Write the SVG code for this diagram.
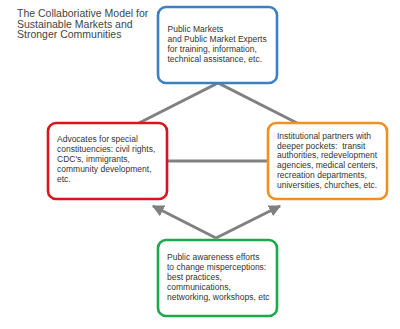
<svg xmlns="http://www.w3.org/2000/svg" width="400" height="329" viewBox="0 0 400 329">
<defs>
<style>
.box{fill:#fff;stroke-width:2.6}
.t{font-family:"Liberation Sans",Arial,sans-serif;font-size:8.5px;fill:#333;white-space:pre}
.title{font-family:"Liberation Sans",Arial,sans-serif;font-size:10.5px;fill:#444}
.ln{stroke:#808080;stroke-width:3;fill:none}
</style>
<marker id="ah" viewBox="0 0 10 10" refX="9" refY="5" markerWidth="12" markerHeight="12" markerUnits="userSpaceOnUse" orient="auto">
<path d="M0,0 L10,5 L0,10 Z" fill="#808080"/>
</marker>
</defs>
<rect width="400" height="329" fill="#fff"/>
<text class="title"><tspan x="17" y="17">The Collaboriative Model for</tspan><tspan x="17" y="27.5">Sustainable Markets and</tspan><tspan x="17" y="38">Stronger Communities</tspan></text>
<g id="connectors">
<path class="ln" d="M139,123 L218,83 L297,123"/>
<path class="ln" d="M167,161 L268,161"/>
<path class="ln" d="M216,238 L153,206" marker-end="url(#ah)"/>
<path class="ln" d="M216,238 L280,206" marker-end="url(#ah)"/>
</g>
<g id="public-markets">
<rect class="box" x="158" y="7" width="119" height="76" rx="8" stroke="#3c80c4"/>
<text class="t"><tspan x="167.5" y="32">Public Markets</tspan><tspan x="167.5" y="42">and Public Market Experts</tspan><tspan x="167.5" y="52">for training, information,</tspan><tspan x="167.5" y="62">technical assistance, etc.</tspan></text>
</g>
<g id="advocates">
<rect class="box" x="48" y="123" width="119" height="76" rx="8" stroke="#d8141c"/>
<text class="t"><tspan x="57" y="142">Advocates for special</tspan><tspan x="57" y="152">constituencies: civil rights,</tspan><tspan x="57" y="162">CDC's, immigrants,</tspan><tspan x="57" y="172">community development,</tspan><tspan x="57" y="182">etc.</tspan></text>
</g>
<g id="institutional">
<rect class="box" x="268" y="123" width="119" height="76" rx="8" stroke="#f0901e"/>
<text class="t"><tspan x="277" y="139">Institutional partners with</tspan><tspan x="277" y="148.7">deeper pockets:  transit</tspan><tspan x="277" y="158.4">authorities, redevelopment</tspan><tspan x="277" y="168.1">agencies, medical centers,</tspan><tspan x="277" y="177.8">recreation departments,</tspan><tspan x="277" y="187.5">universities, churches, etc.</tspan></text>
</g>
<g id="public-awareness">
<rect class="box" x="158" y="240" width="119" height="76" rx="8" stroke="#1ca84c"/>
<text class="t"><tspan x="167" y="259.5">Public awareness efforts</tspan><tspan x="167" y="269.5">to change misperceptions:</tspan><tspan x="167" y="279.5">best practices,</tspan><tspan x="167" y="289.5">communications,</tspan><tspan x="167" y="299.5">networking, workshops, etc</tspan></text>
</g>
</svg>
